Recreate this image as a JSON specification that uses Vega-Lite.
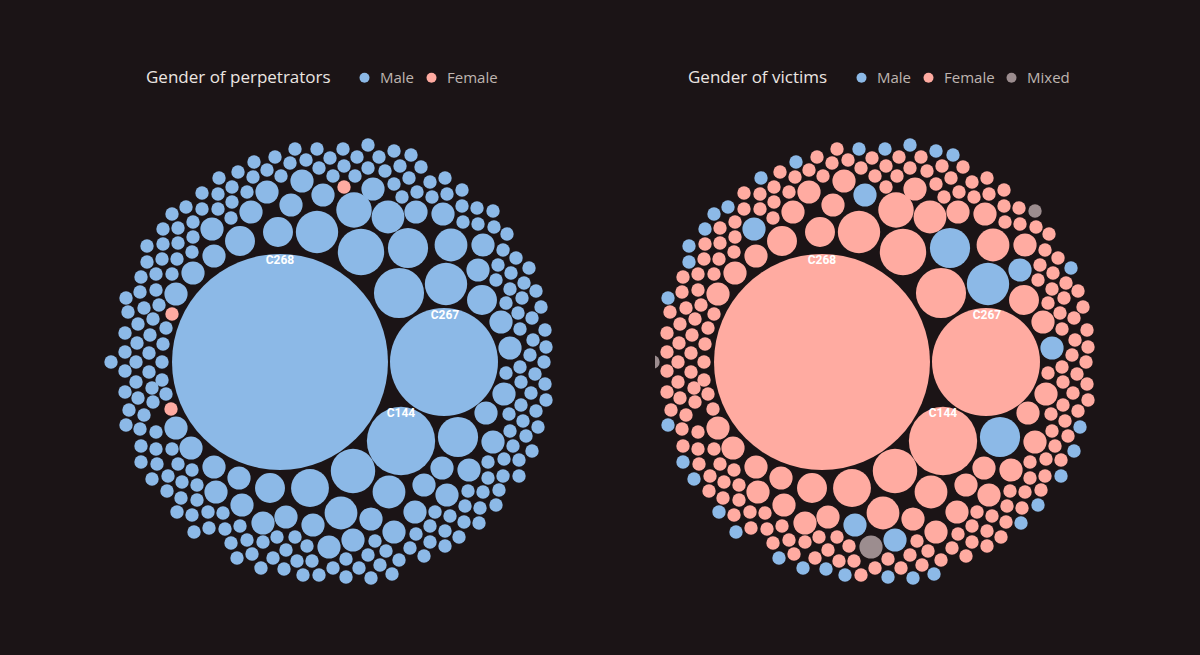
{
"$schema": "https://vega.github.io/schema/vega-lite/v6.json",
"background": "#1b1416",
"padding": {"left": 103, "top": 60, "right": 95, "bottom": 65},
"bounds": "flush",
"spacing": 92,
"config": {"view": {"stroke": null}},
"datasets": {
"labels": [
{"id": "C268", "lx": 822, "ly": 260},
{"id": "C267", "lx": 987, "ly": 315},
{"id": "C144", "lx": 943, "ly": 413}
],
"cases": [
{"x":822,"y":362,"n":260,"perp":"Male","victim":"Female"},
{"x":986,"y":362,"n":65,"perp":"Male","victim":"Female"},
{"x":943,"y":441,"n":26,"perp":"Male","victim":"Female"},
{"x":941,"y":293,"n":14,"perp":"Male","victim":"Female"},
{"x":903,"y":252,"n":12,"perp":"Male","victim":"Female"},
{"x":859,"y":232,"n":10,"perp":"Male","victim":"Female"},
{"x":820,"y":232,"n":5,"perp":"Male","victim":"Female"},
{"x":782,"y":241,"n":5,"perp":"Male","victim":"Female"},
{"x":756,"y":256,"n":3,"perp":"Male","victim":"Female"},
{"x":754,"y":229,"n":3,"perp":"Male","victim":"Male"},
{"x":793,"y":212,"n":3,"perp":"Male","victim":"Female"},
{"x":809,"y":192,"n":3,"perp":"Male","victim":"Female"},
{"x":833,"y":205,"n":3,"perp":"Male","victim":"Female"},
{"x":844,"y":181,"n":3,"perp":"Male","victim":"Female"},
{"x":865,"y":195,"n":3,"perp":"Male","victim":"Male"},
{"x":896,"y":210,"n":7,"perp":"Male","victim":"Female"},
{"x":915,"y":189,"n":3,"perp":"Male","victim":"Female"},
{"x":930,"y":217,"n":6,"perp":"Male","victim":"Female"},
{"x":958,"y":212,"n":3,"perp":"Male","victim":"Female"},
{"x":950,"y":248,"n":9,"perp":"Male","victim":"Male"},
{"x":985,"y":214,"n":3,"perp":"Male","victim":"Female"},
{"x":993,"y":245,"n":6,"perp":"Male","victim":"Female"},
{"x":1025,"y":245,"n":3,"perp":"Male","victim":"Female"},
{"x":1020,"y":270,"n":3,"perp":"Male","victim":"Male"},
{"x":988,"y":284,"n":10,"perp":"Male","victim":"Male"},
{"x":1024,"y":300,"n":5,"perp":"Male","victim":"Female"},
{"x":1043,"y":322,"n":3,"perp":"Male","victim":"Female"},
{"x":1052,"y":348,"n":3,"perp":"Male","victim":"Male"},
{"x":1046,"y":394,"n":3,"perp":"Male","victim":"Female"},
{"x":1028,"y":413,"n":3,"perp":"Male","victim":"Female"},
{"x":1000,"y":437,"n":9,"perp":"Male","victim":"Male"},
{"x":1035,"y":442,"n":3,"perp":"Male","victim":"Female"},
{"x":984,"y":468,"n":3,"perp":"Male","victim":"Female"},
{"x":1011,"y":470,"n":3,"perp":"Male","victim":"Female"},
{"x":966,"y":485,"n":3,"perp":"Male","victim":"Female"},
{"x":989,"y":495,"n":3,"perp":"Male","victim":"Female"},
{"x":957,"y":512,"n":3,"perp":"Male","victim":"Female"},
{"x":931,"y":492,"n":6,"perp":"Male","victim":"Female"},
{"x":895,"y":471,"n":11,"perp":"Male","victim":"Female"},
{"x":852,"y":488,"n":8,"perp":"Male","victim":"Female"},
{"x":812,"y":488,"n":5,"perp":"Male","victim":"Female"},
{"x":883,"y":513,"n":6,"perp":"Male","victim":"Female"},
{"x":828,"y":517,"n":3,"perp":"Male","victim":"Female"},
{"x":913,"y":519,"n":3,"perp":"Male","victim":"Female"},
{"x":855,"y":525,"n":3,"perp":"Male","victim":"Male"},
{"x":936,"y":532,"n":3,"perp":"Male","victim":"Female"},
{"x":895,"y":540,"n":3,"perp":"Male","victim":"Male"},
{"x":871,"y":547,"n":3,"perp":"Male","victim":"Mixed"},
{"x":805,"y":523,"n":3,"perp":"Male","victim":"Female"},
{"x":784,"y":505,"n":3,"perp":"Male","victim":"Female"},
{"x":781,"y":478,"n":3,"perp":"Male","victim":"Female"},
{"x":758,"y":492,"n":3,"perp":"Male","victim":"Female"},
{"x":756,"y":467,"n":3,"perp":"Male","victim":"Female"},
{"x":733,"y":448,"n":3,"perp":"Male","victim":"Female"},
{"x":718,"y":428,"n":3,"perp":"Male","victim":"Female"},
{"x":718,"y":294,"n":3,"perp":"Male","victim":"Female"},
{"x":735,"y":273,"n":3,"perp":"Male","victim":"Female"},
{"x":796,"y":162,"n":1,"perp":"Male","victim":"Male"},
{"x":780,"y":172,"n":1,"perp":"Male","victim":"Female"},
{"x":761,"y":178,"n":1,"perp":"Male","victim":"Male"},
{"x":795,"y":177,"n":1,"perp":"Male","victim":"Female"},
{"x":774,"y":187,"n":1,"perp":"Male","victim":"Female"},
{"x":744,"y":193,"n":1,"perp":"Male","victim":"Female"},
{"x":760,"y":194,"n":1,"perp":"Male","victim":"Female"},
{"x":789,"y":192,"n":1,"perp":"Male","victim":"Female"},
{"x":728,"y":207,"n":1,"perp":"Male","victim":"Male"},
{"x":744,"y":209,"n":1,"perp":"Male","victim":"Female"},
{"x":760,"y":209,"n":1,"perp":"Male","victim":"Female"},
{"x":774,"y":202,"n":1,"perp":"Male","victim":"Female"},
{"x":714,"y":214,"n":1,"perp":"Male","victim":"Male"},
{"x":773,"y":218,"n":1,"perp":"Male","victim":"Female"},
{"x":735,"y":222,"n":1,"perp":"Male","victim":"Female"},
{"x":705,"y":229,"n":1,"perp":"Male","victim":"Male"},
{"x":720,"y":228,"n":1,"perp":"Male","victim":"Female"},
{"x":735,"y":237,"n":1,"perp":"Male","victim":"Female"},
{"x":689,"y":246,"n":1,"perp":"Male","victim":"Male"},
{"x":705,"y":244,"n":1,"perp":"Male","victim":"Female"},
{"x":720,"y":243,"n":1,"perp":"Male","victim":"Female"},
{"x":734,"y":252,"n":1,"perp":"Male","victim":"Female"},
{"x":689,"y":262,"n":1,"perp":"Male","victim":"Male"},
{"x":704,"y":259,"n":1,"perp":"Male","victim":"Female"},
{"x":719,"y":259,"n":1,"perp":"Male","victim":"Female"},
{"x":683,"y":277,"n":1,"perp":"Male","victim":"Female"},
{"x":698,"y":274,"n":1,"perp":"Male","victim":"Female"},
{"x":714,"y":274,"n":1,"perp":"Male","victim":"Female"},
{"x":837,"y":149,"n":1,"perp":"Male","victim":"Female"},
{"x":859,"y":149,"n":1,"perp":"Male","victim":"Male"},
{"x":885,"y":149,"n":1,"perp":"Male","victim":"Male"},
{"x":910,"y":145,"n":1,"perp":"Male","victim":"Male"},
{"x":936,"y":151,"n":1,"perp":"Male","victim":"Male"},
{"x":953,"y":155,"n":1,"perp":"Male","victim":"Male"},
{"x":817,"y":157,"n":1,"perp":"Male","victim":"Female"},
{"x":832,"y":163,"n":1,"perp":"Male","victim":"Female"},
{"x":848,"y":160,"n":1,"perp":"Male","victim":"Female"},
{"x":872,"y":158,"n":1,"perp":"Male","victim":"Female"},
{"x":899,"y":157,"n":1,"perp":"Male","victim":"Female"},
{"x":921,"y":157,"n":1,"perp":"Male","victim":"Female"},
{"x":809,"y":170,"n":1,"perp":"Male","victim":"Female"},
{"x":823,"y":176,"n":1,"perp":"Male","victim":"Female"},
{"x":861,"y":168,"n":1,"perp":"Male","victim":"Female"},
{"x":886,"y":166,"n":1,"perp":"Male","victim":"Female"},
{"x":910,"y":168,"n":1,"perp":"Male","victim":"Female"},
{"x":927,"y":171,"n":1,"perp":"Male","victim":"Female"},
{"x":942,"y":166,"n":1,"perp":"Male","victim":"Female"},
{"x":951,"y":178,"n":1,"perp":"Male","victim":"Female"},
{"x":875,"y":176,"n":1,"perp":"Male","victim":"Female"},
{"x":897,"y":176,"n":1,"perp":"Male","victim":"Female"},
{"x":886,"y":187,"n":1,"perp":"Female","victim":"Female"},
{"x":936,"y":184,"n":1,"perp":"Male","victim":"Female"},
{"x":944,"y":197,"n":1,"perp":"Male","victim":"Female"},
{"x":963,"y":167,"n":1,"perp":"Male","victim":"Female"},
{"x":987,"y":178,"n":1,"perp":"Male","victim":"Female"},
{"x":972,"y":182,"n":1,"perp":"Male","victim":"Female"},
{"x":959,"y":192,"n":1,"perp":"Male","victim":"Female"},
{"x":1004,"y":190,"n":1,"perp":"Male","victim":"Female"},
{"x":989,"y":194,"n":1,"perp":"Male","victim":"Female"},
{"x":974,"y":197,"n":1,"perp":"Male","victim":"Female"},
{"x":1004,"y":206,"n":1,"perp":"Male","victim":"Female"},
{"x":1019,"y":208,"n":1,"perp":"Male","victim":"Female"},
{"x":1035,"y":211,"n":1,"perp":"Male","victim":"Mixed"},
{"x":1005,"y":222,"n":1,"perp":"Male","victim":"Female"},
{"x":1020,"y":224,"n":1,"perp":"Male","victim":"Female"},
{"x":1036,"y":227,"n":1,"perp":"Male","victim":"Female"},
{"x":1049,"y":234,"n":1,"perp":"Male","victim":"Female"},
{"x":1045,"y":250,"n":1,"perp":"Male","victim":"Female"},
{"x":1058,"y":258,"n":1,"perp":"Male","victim":"Female"},
{"x":1071,"y":268,"n":1,"perp":"Male","victim":"Male"},
{"x":1040,"y":265,"n":1,"perp":"Male","victim":"Female"},
{"x":1053,"y":273,"n":1,"perp":"Male","victim":"Female"},
{"x":1038,"y":280,"n":1,"perp":"Male","victim":"Female"},
{"x":1066,"y":283,"n":1,"perp":"Male","victim":"Female"},
{"x":1052,"y":289,"n":1,"perp":"Male","victim":"Female"},
{"x":1078,"y":291,"n":1,"perp":"Male","victim":"Female"},
{"x":1048,"y":303,"n":1,"perp":"Male","victim":"Female"},
{"x":1064,"y":298,"n":1,"perp":"Male","victim":"Female"},
{"x":1083,"y":307,"n":1,"perp":"Male","victim":"Female"},
{"x":1060,"y":313,"n":1,"perp":"Male","victim":"Female"},
{"x":1074,"y":318,"n":1,"perp":"Male","victim":"Female"},
{"x":1062,"y":329,"n":1,"perp":"Male","victim":"Female"},
{"x":1087,"y":330,"n":1,"perp":"Male","victim":"Female"},
{"x":1075,"y":340,"n":1,"perp":"Male","victim":"Female"},
{"x":1088,"y":347,"n":1,"perp":"Male","victim":"Female"},
{"x":1072,"y":355,"n":1,"perp":"Male","victim":"Female"},
{"x":1086,"y":362,"n":1,"perp":"Male","victim":"Female"},
{"x":1062,"y":367,"n":1,"perp":"Male","victim":"Female"},
{"x":1048,"y":373,"n":1,"perp":"Male","victim":"Female"},
{"x":1077,"y":374,"n":1,"perp":"Male","victim":"Female"},
{"x":1063,"y":382,"n":1,"perp":"Male","victim":"Female"},
{"x":1087,"y":384,"n":1,"perp":"Male","victim":"Female"},
{"x":1073,"y":393,"n":1,"perp":"Male","victim":"Female"},
{"x":1088,"y":400,"n":1,"perp":"Male","victim":"Female"},
{"x":1063,"y":405,"n":1,"perp":"Male","victim":"Female"},
{"x":1078,"y":411,"n":1,"perp":"Male","victim":"Female"},
{"x":1051,"y":414,"n":1,"perp":"Male","victim":"Female"},
{"x":1065,"y":421,"n":1,"perp":"Male","victim":"Female"},
{"x":1080,"y":427,"n":1,"perp":"Male","victim":"Male"},
{"x":1052,"y":431,"n":1,"perp":"Male","victim":"Female"},
{"x":1068,"y":436,"n":1,"perp":"Male","victim":"Female"},
{"x":1055,"y":446,"n":1,"perp":"Male","victim":"Female"},
{"x":1074,"y":451,"n":1,"perp":"Male","victim":"Male"},
{"x":1061,"y":460,"n":1,"perp":"Male","victim":"Female"},
{"x":1046,"y":459,"n":1,"perp":"Male","victim":"Female"},
{"x":1030,"y":462,"n":1,"perp":"Male","victim":"Female"},
{"x":1061,"y":476,"n":1,"perp":"Male","victim":"Male"},
{"x":1045,"y":476,"n":1,"perp":"Male","victim":"Female"},
{"x":1030,"y":478,"n":1,"perp":"Male","victim":"Female"},
{"x":1010,"y":491,"n":1,"perp":"Male","victim":"Female"},
{"x":1041,"y":490,"n":1,"perp":"Male","victim":"Female"},
{"x":1025,"y":492,"n":1,"perp":"Male","victim":"Female"},
{"x":1038,"y":505,"n":1,"perp":"Male","victim":"Male"},
{"x":1007,"y":506,"n":1,"perp":"Male","victim":"Female"},
{"x":1022,"y":508,"n":1,"perp":"Male","victim":"Female"},
{"x":977,"y":512,"n":1,"perp":"Male","victim":"Female"},
{"x":992,"y":516,"n":1,"perp":"Male","victim":"Female"},
{"x":1006,"y":522,"n":1,"perp":"Male","victim":"Female"},
{"x":1021,"y":523,"n":1,"perp":"Male","victim":"Male"},
{"x":972,"y":526,"n":1,"perp":"Male","victim":"Female"},
{"x":987,"y":531,"n":1,"perp":"Male","victim":"Female"},
{"x":958,"y":534,"n":1,"perp":"Male","victim":"Female"},
{"x":1001,"y":537,"n":1,"perp":"Male","victim":"Female"},
{"x":972,"y":542,"n":1,"perp":"Male","victim":"Female"},
{"x":987,"y":546,"n":1,"perp":"Male","victim":"Female"},
{"x":966,"y":556,"n":1,"perp":"Male","victim":"Female"},
{"x":819,"y":537,"n":1,"perp":"Male","victim":"Female"},
{"x":837,"y":537,"n":1,"perp":"Male","victim":"Female"},
{"x":849,"y":546,"n":1,"perp":"Male","victim":"Female"},
{"x":828,"y":550,"n":1,"perp":"Male","victim":"Female"},
{"x":805,"y":542,"n":1,"perp":"Male","victim":"Female"},
{"x":917,"y":541,"n":1,"perp":"Male","victim":"Female"},
{"x":928,"y":551,"n":1,"perp":"Male","victim":"Female"},
{"x":910,"y":555,"n":1,"perp":"Male","victim":"Female"},
{"x":941,"y":560,"n":1,"perp":"Male","victim":"Female"},
{"x":952,"y":548,"n":1,"perp":"Male","victim":"Female"},
{"x":888,"y":559,"n":1,"perp":"Male","victim":"Female"},
{"x":922,"y":565,"n":1,"perp":"Male","victim":"Female"},
{"x":815,"y":558,"n":1,"perp":"Male","victim":"Female"},
{"x":839,"y":561,"n":1,"perp":"Male","victim":"Female"},
{"x":854,"y":561,"n":1,"perp":"Male","victim":"Female"},
{"x":875,"y":568,"n":1,"perp":"Male","victim":"Female"},
{"x":901,"y":568,"n":1,"perp":"Male","victim":"Female"},
{"x":803,"y":568,"n":1,"perp":"Male","victim":"Male"},
{"x":826,"y":569,"n":1,"perp":"Male","victim":"Male"},
{"x":845,"y":575,"n":1,"perp":"Male","victim":"Male"},
{"x":861,"y":575,"n":1,"perp":"Male","victim":"Female"},
{"x":888,"y":577,"n":1,"perp":"Male","victim":"Male"},
{"x":913,"y":578,"n":1,"perp":"Male","victim":"Male"},
{"x":934,"y":574,"n":1,"perp":"Male","victim":"Male"},
{"x":683,"y":446,"n":1,"perp":"Male","victim":"Female"},
{"x":698,"y":449,"n":1,"perp":"Male","victim":"Female"},
{"x":714,"y":449,"n":1,"perp":"Male","victim":"Female"},
{"x":683,"y":462,"n":1,"perp":"Male","victim":"Male"},
{"x":699,"y":464,"n":1,"perp":"Male","victim":"Female"},
{"x":720,"y":464,"n":1,"perp":"Male","victim":"Female"},
{"x":734,"y":470,"n":1,"perp":"Male","victim":"Female"},
{"x":694,"y":479,"n":1,"perp":"Male","victim":"Male"},
{"x":710,"y":476,"n":1,"perp":"Male","victim":"Female"},
{"x":724,"y":482,"n":1,"perp":"Male","victim":"Female"},
{"x":739,"y":485,"n":1,"perp":"Male","victim":"Female"},
{"x":709,"y":491,"n":1,"perp":"Male","victim":"Female"},
{"x":723,"y":498,"n":1,"perp":"Male","victim":"Female"},
{"x":739,"y":500,"n":1,"perp":"Male","victim":"Female"},
{"x":719,"y":512,"n":1,"perp":"Male","victim":"Male"},
{"x":734,"y":515,"n":1,"perp":"Male","victim":"Female"},
{"x":750,"y":512,"n":1,"perp":"Male","victim":"Female"},
{"x":765,"y":513,"n":1,"perp":"Male","victim":"Female"},
{"x":736,"y":532,"n":1,"perp":"Male","victim":"Male"},
{"x":751,"y":528,"n":1,"perp":"Male","victim":"Female"},
{"x":767,"y":529,"n":1,"perp":"Male","victim":"Female"},
{"x":782,"y":526,"n":1,"perp":"Male","victim":"Female"},
{"x":773,"y":543,"n":1,"perp":"Male","victim":"Female"},
{"x":789,"y":540,"n":1,"perp":"Male","victim":"Female"},
{"x":794,"y":554,"n":1,"perp":"Male","victim":"Female"},
{"x":779,"y":558,"n":1,"perp":"Male","victim":"Male"},
{"x":668,"y":298,"n":1,"perp":"Male","victim":"Male"},
{"x":682,"y":292,"n":1,"perp":"Male","victim":"Female"},
{"x":698,"y":290,"n":1,"perp":"Male","victim":"Female"},
{"x":670,"y":312,"n":1,"perp":"Male","victim":"Female"},
{"x":686,"y":308,"n":1,"perp":"Male","victim":"Female"},
{"x":701,"y":305,"n":1,"perp":"Male","victim":"Female"},
{"x":714,"y":314,"n":1,"perp":"Female","victim":"Female"},
{"x":680,"y":324,"n":1,"perp":"Male","victim":"Female"},
{"x":695,"y":319,"n":1,"perp":"Male","victim":"Female"},
{"x":708,"y":328,"n":1,"perp":"Male","victim":"Female"},
{"x":667,"y":333,"n":1,"perp":"Male","victim":"Female"},
{"x":692,"y":335,"n":1,"perp":"Male","victim":"Female"},
{"x":679,"y":343,"n":1,"perp":"Male","victim":"Female"},
{"x":705,"y":344,"n":1,"perp":"Male","victim":"Female"},
{"x":667,"y":352,"n":1,"perp":"Male","victim":"Female"},
{"x":691,"y":353,"n":1,"perp":"Male","victim":"Female"},
{"x":653,"y":362,"n":1,"perp":"Male","victim":"Mixed"},
{"x":678,"y":362,"n":1,"perp":"Male","victim":"Female"},
{"x":704,"y":362,"n":1,"perp":"Male","victim":"Female"},
{"x":667,"y":371,"n":1,"perp":"Male","victim":"Female"},
{"x":691,"y":372,"n":1,"perp":"Male","victim":"Female"},
{"x":678,"y":382,"n":1,"perp":"Male","victim":"Female"},
{"x":704,"y":380,"n":1,"perp":"Male","victim":"Female"},
{"x":667,"y":392,"n":1,"perp":"Male","victim":"Female"},
{"x":694,"y":388,"n":1,"perp":"Male","victim":"Female"},
{"x":708,"y":394,"n":1,"perp":"Male","victim":"Female"},
{"x":680,"y":398,"n":1,"perp":"Male","victim":"Female"},
{"x":695,"y":402,"n":1,"perp":"Male","victim":"Female"},
{"x":671,"y":410,"n":1,"perp":"Male","victim":"Female"},
{"x":686,"y":415,"n":1,"perp":"Male","victim":"Female"},
{"x":713,"y":409,"n":1,"perp":"Female","victim":"Female"},
{"x":668,"y":425,"n":1,"perp":"Male","victim":"Male"},
{"x":682,"y":429,"n":1,"perp":"Male","victim":"Female"},
{"x":698,"y":432,"n":1,"perp":"Male","victim":"Female"}
]
},
"resolve": {"scale": {"color": "independent", "x": "independent"}, "legend": {"color": "independent"}},
"hconcat": [
{
"width": 460, "height": 530,
"layer": [
{
"data": {"name": "cases"},
"mark": {"type": "circle", "opacity": 1, "filled": true, "strokeWidth": 0},
"encoding": {
"x": {"field": "x", "type": "quantitative", "scale": {"domain": [645, 1105], "nice": false, "zero": false}, "axis": null},
"y": {"field": "y", "type": "quantitative", "scale": {"domain": [60, 590], "nice": false, "zero": false, "reverse": true}, "axis": null},
"size": {"field": "n", "type": "quantitative", "scale": {"domain": [0, 260], "range": [0, 46656]}, "legend": null},
"color": {"field": "perp", "type": "nominal",
"scale": {"domain": ["Male", "Female"], "range": ["#8cb9e7", "#ffaba1"]},
"legend": {"title": "Gender of perpetrators", "orient": "none", "legendX": 43, "legendY": 10, "direction": "horizontal", "titleOrient": "left", "titleLimit": 400, "labelLimit": 200,
"titleFont": "Open Sans", "titleFontSize": 17, "titleFontWeight": "normal", "titleColor": "#ece6e2", "titlePadding": 26,
"labelFont": "Open Sans", "labelFontSize": 15, "labelColor": "#bfb5b0", "labelOffset": 8, "columnPadding": 9,
"symbolType": "circle", "symbolSize": 100, "symbolStrokeWidth": 0}}
}
},
{
"data": {"name": "labels"},
"mark": {"type": "text", "font": "Roboto", "fontSize": 12, "fontWeight": "bold", "color": "#ffffff", "align": "center", "baseline": "middle"},
"encoding": {
"x": {"field": "lx", "type": "quantitative", "scale": {"domain": [645, 1105], "nice": false, "zero": false}, "axis": null},
"y": {"field": "ly", "type": "quantitative", "scale": {"domain": [60, 590], "nice": false, "zero": false, "reverse": true}, "axis": null},
"text": {"field": "id"}
}
}
]
},
{
"width": 450, "height": 530,
"layer": [
{
"data": {"name": "cases"},
"mark": {"type": "circle", "opacity": 1, "filled": true, "strokeWidth": 0, "clip": true},
"encoding": {
"x": {"field": "x", "type": "quantitative", "scale": {"domain": [655, 1105], "nice": false, "zero": false}, "axis": null},
"y": {"field": "y", "type": "quantitative", "scale": {"domain": [60, 590], "nice": false, "zero": false, "reverse": true}, "axis": null},
"size": {"field": "n", "type": "quantitative", "scale": {"domain": [0, 260], "range": [0, 46656]}, "legend": null},
"color": {"field": "victim", "type": "nominal",
"scale": {"domain": ["Male", "Female", "Mixed"], "range": ["#8cb9e7", "#ffaba1", "#9c8d8f"]},
"legend": {"title": "Gender of victims", "orient": "none", "legendX": 33, "legendY": 10, "direction": "horizontal", "titleOrient": "left", "titleLimit": 400, "labelLimit": 200,
"titleFont": "Open Sans", "titleFontSize": 17, "titleFontWeight": "normal", "titleColor": "#ece6e2", "titlePadding": 26,
"labelFont": "Open Sans", "labelFontSize": 15, "labelColor": "#bfb5b0", "labelOffset": 8, "columnPadding": 9,
"symbolType": "circle", "symbolSize": 100, "symbolStrokeWidth": 0}}
}
},
{
"data": {"name": "labels"},
"mark": {"type": "text", "font": "Roboto", "fontSize": 12, "fontWeight": "bold", "color": "#ffffff", "align": "center", "baseline": "middle"},
"encoding": {
"x": {"field": "lx", "type": "quantitative", "scale": {"domain": [655, 1105], "nice": false, "zero": false}, "axis": null},
"y": {"field": "ly", "type": "quantitative", "scale": {"domain": [60, 590], "nice": false, "zero": false, "reverse": true}, "axis": null},
"text": {"field": "id"}
}
}
]
}
]
}
